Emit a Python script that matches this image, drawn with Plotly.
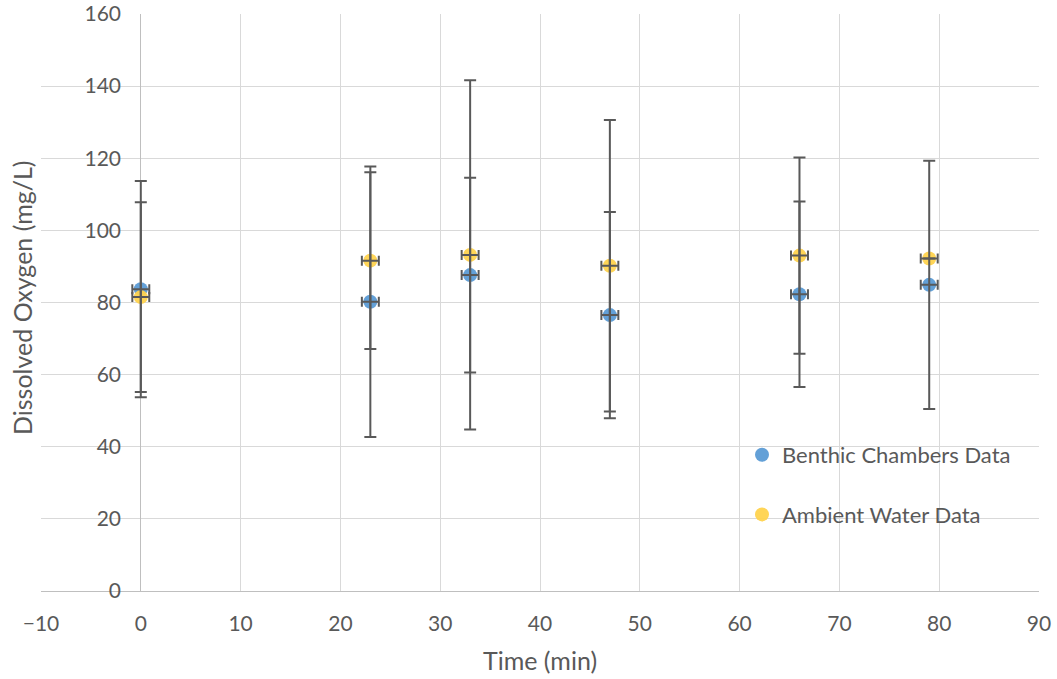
import plotly.graph_objects as go

time_min = [0, 23, 33, 47, 66, 79]
benthic_do = [83.7, 80.2, 87.6, 76.5, 82.3, 84.9]
benthic_err = [30.0, 37.5, 27.0, 28.6, 25.7, 34.4]
ambient_do = [81.5, 91.6, 93.2, 90.2, 93.0, 92.2]
ambient_err = [26.3, 24.5, 48.4, 40.4, 27.2, None]
time_err = [0.85, 0.85, 0.85, 0.85, 0.85, 0.85]

FONT = "Lato"
TXT = "#595959"
ERR = "#595959"

fig = go.Figure()

fig.add_trace(go.Scatter(x=time_min, y=benthic_do, mode="markers", name="Benthic Chambers Data",
                         marker=dict(color="#5B9BD5", size=14, opacity=0.95), legendgroup="b"))
fig.add_trace(go.Scatter(x=time_min, y=ambient_do, mode="markers", name="Ambient Water Data",
                         marker=dict(color="#FFD34E", size=14, opacity=0.95), legendgroup="a"))

for yv, ev in [(benthic_do, benthic_err), (ambient_do, ambient_err)]:
    fig.add_trace(go.Scatter(
        x=time_min, y=yv, mode="markers", showlegend=False, hoverinfo="skip",
        marker=dict(size=1, opacity=0),
        error_y=dict(type="data", array=ev, symmetric=True, color=ERR, thickness=2, width=6),
        error_x=dict(type="data", array=time_err, symmetric=True, color=ERR, thickness=2, width=5),
    ))

# white box behind legend
fig.add_shape(type="rect", xref="paper", yref="paper",
              x0=(720 - 41) / 998, x1=(1031 - 41) / 998,
              y0=(591 - 543) / 577, y1=(591 - 428) / 577,
              fillcolor="white", line=dict(width=0), layer="between")

fig.add_annotation(text="Dissolved Oxygen (mg/L)", xref="paper", yref="paper",
                   x=(22 - 41) / 998, y=(591 - 298) / 577, textangle=-90, showarrow=False,
                   font=dict(family=FONT, size=25, color=TXT), xanchor="center", yanchor="middle")

fig.add_annotation(text="Time (min)", xref="paper", yref="paper",
                   x=(540 - 41) / 998, y=-(660 - 591) / 577, showarrow=False,
                   font=dict(family=FONT, size=25, color=TXT), xanchor="center", yanchor="middle")

fig.update_layout(
    width=1057, height=679,
    margin=dict(l=41, r=18, t=14, b=88, autoexpand=False),
    plot_bgcolor="white", paper_bgcolor="white",
    font=dict(family=FONT, size=21, color=TXT),
    showlegend=True,
    legend=dict(x=(742 - 41) / 998, y=(591 - 434) / 577, xanchor="left", yanchor="top",
                bgcolor="rgba(0,0,0,0)", traceorder="grouped", tracegroupgap=28,
                font=dict(family=FONT, size=22, color=TXT)),
    xaxis=dict(range=[-10, 90], dtick=10, tick0=0, showgrid=True, gridcolor="#D9D9D9", gridwidth=1,
               showline=True, linecolor="#BFBFBF", linewidth=1,
               zeroline=True, zerolinecolor="#BFBFBF", zerolinewidth=1,
               ticks="", ticklabelstandoff=14, automargin=False,
               tickfont=dict(family=FONT, size=21, color=TXT)),
    yaxis=dict(range=[0, 160], dtick=20, showgrid=True, gridcolor="#D9D9D9", gridwidth=1,
               anchor="free", position=100 / 998, side="left", automargin=False,
               showline=False, zeroline=False, ticks="", ticklabelstandoff=20,
               tickfont=dict(family=FONT, size=21, color=TXT)),
)

fig.write_html("out.html")
